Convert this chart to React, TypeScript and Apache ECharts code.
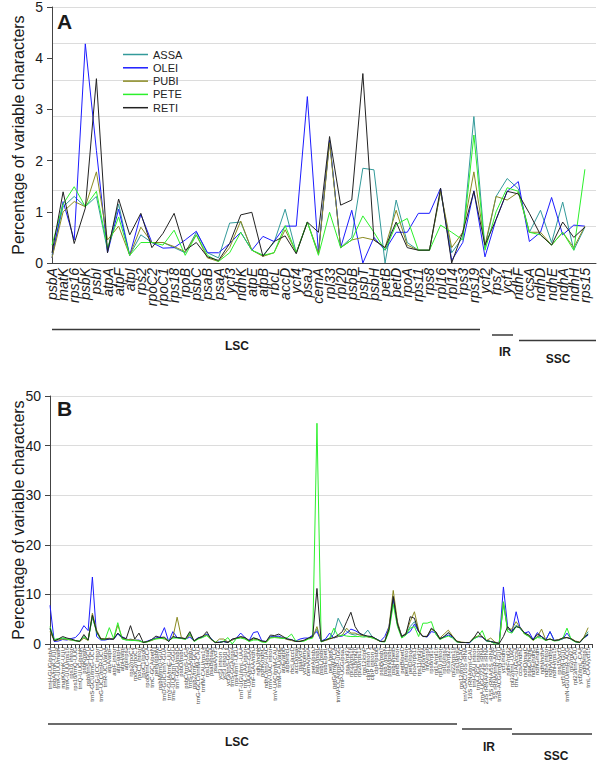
import React, { useEffect, useRef } from "react";
import * as echarts from "echarts";

const seriesNames = ["ASSA", "OLEI", "PUBI", "PETE", "RETI"];
const seriesColors = ["#339a9a", "#1c1cff", "#8a8a22", "#2cf02c", "#222222"];

const genesA = [
  "psbA", "matK", "rps16", "psbK", "psbI", "atpA", "atpF", "atpI", "rps2", "rpoC2",
  "rpoC1", "rps18", "rpoB", "psbC", "psaB", "psaA", "ycf3", "ndhK", "atpE", "atpB",
  "rbcL", "accD", "ycf4", "psaJ", "cemA", "rpl33", "rpl20", "psbB", "psbT", "psbH",
  "petB", "petD", "rpoA", "rps11", "rps8", "rpl16", "rpl14", "rps3", "rps19", "ycf2",
  "rps7", "ycf1", "ndhF", "ccsA", "ndhD", "ndhE", "ndhA", "ndhH", "rps15",
];

const assaA = [0.15, 1.1, 1.3, 1.1, 1.3, 0.25, 1.15, 0.15, 0.55, 0.4, 0.4, 0.3, 0.2, 0.6, 0.2, 0.1, 0.78, 0.8, 0.25, 0.15, 0.4, 1.05, 0.2, 0.8, 0.2, 2.4, 0.3, 0.5, 1.85, 1.82, 0.0, 1.23, 0.4, 0.25, 0.25, 1.4, 0.2, 0.5, 2.86, 0.3, 1.3, 1.65, 1.45, 0.6, 1.03, 0.4, 1.19, 0.25, 0.7];
const oleiA = [0.1, 1.2, 0.45, 4.28, 2.2, 0.2, 1.05, 0.15, 0.95, 0.4, 0.29, 0.3, 0.45, 0.62, 0.2, 0.2, 0.38, 0.6, 0.25, 0.52, 0.42, 0.72, 0.72, 3.25, 0.2, 2.4, 0.3, 1.03, 0.0, 0.5, 0.25, 0.6, 0.6, 0.97, 0.97, 1.46, 0.05, 0.4, 1.41, 0.12, 0.85, 1.4, 1.59, 0.42, 0.6, 1.28, 0.55, 0.74, 0.72];
const pubiA = [0.1, 1.0, 1.2, 1.1, 1.78, 0.45, 0.72, 0.15, 0.7, 0.4, 0.4, 0.32, 0.22, 0.55, 0.1, 0.03, 0.3, 0.82, 0.25, 0.13, 0.2, 0.65, 0.2, 0.8, 0.18, 2.35, 0.3, 0.45, 0.5, 0.45, 0.3, 1.03, 0.35, 0.25, 0.25, 1.4, 0.3, 0.6, 1.78, 0.35, 1.3, 1.23, 1.38, 0.6, 0.6, 0.35, 0.6, 0.3, 0.72];
const peteA = [0.35, 1.15, 1.49, 1.1, 1.4, 0.3, 0.9, 0.15, 0.4, 0.4, 0.35, 0.64, 0.15, 0.55, 0.15, 0.03, 0.2, 0.6, 0.25, 0.15, 0.2, 0.73, 0.2, 0.8, 0.15, 0.99, 0.3, 0.45, 0.92, 0.6, 0.25, 0.75, 0.87, 0.25, 0.25, 0.74, 0.6, 0.45, 2.5, 0.25, 1.0, 1.47, 1.4, 0.6, 0.55, 0.35, 0.6, 0.25, 1.83];
const retiA = [0.2, 1.39, 0.38, 1.07, 3.6, 0.2, 1.25, 0.55, 0.97, 0.3, 0.58, 0.97, 0.25, 0.4, 0.12, 0.05, 0.38, 0.94, 0.99, 0.13, 0.42, 0.53, 0.18, 0.8, 0.6, 2.47, 1.13, 1.23, 3.7, 0.45, 0.3, 0.8, 0.3, 0.25, 0.25, 1.46, 0.0, 0.6, 1.4, 0.35, 0.85, 1.4, 1.35, 0.97, 0.55, 0.35, 0.8, 0.5, 0.7];

const regionsB = [
  "trnH-GUG/psbA", "psbA/trnK-UUU", "trnK-UUU/matK", "matK/trnK-UUU", "trnK-UUU/rps16", "rps16 intron", "rps16/trnQ-UUG", "trnQ-UUG/psbK", "psbK/psbI", "psbI/trnS-GCU",
  "trnS-GCU/trnG-UCC", "trnG-UCC intron", "trnG-UCC/trnR-UCU", "trnR-UCU/atpA", "atpA/atpF", "atpF intron", "atpF/atpH", "atpH/atpI", "atpI/rps2", "rps2/rpoC2",
  "rpoC2/rpoC1", "rpoC1 intron", "rpoC1/rpoB", "rpoB/trnC-GCA", "trnC-GCA/petN", "petN/psbM", "psbM/trnD-GUC", "trnD-GUC/trnY-GUA", "trnY-GUA/trnE-UUC", "trnE-UUC/trnT-GGU",
  "trnT-GGU/psbD", "psbD/psbC", "psbC/trnS-UGA", "trnS-UGA/psbZ", "psbZ/trnG-GCC", "trnG-GCC/trnfM-CAU", "trnfM-CAU/rps14", "rps14/psaB", "psaB/psaA", "psaA/ycf3",
  "ycf3 intron 1", "ycf3 intron 2", "ycf3/trnS-GGA", "trnS-GGA/rps4", "rps4/trnT-UGU", "trnT-UGU/trnL-UAA", "trnL-UAA intron", "trnL-UAA/trnF-GAA", "trnF-GAA/ndhJ", "ndhJ/ndhK",
  "ndhK/ndhC", "ndhC/trnV-UAC", "trnV-UAC intron", "trnV-UAC/trnM-CAU", "trnM-CAU/atpE", "atpE/atpB", "atpB/rbcL", "rbcL/accD", "accD/psaI", "psaI/ycf4",
  "ycf4/cemA", "cemA/petA", "petA/psbJ", "psbJ/psbL", "psbL/psbF", "psbE/petL", "petL/petG", "petG/trnW-CCA", "trnW-CCA/trnP-UGG", "trnP-UGG/psaJ",
  "psaJ/rpl33", "rpl33/rps18", "rps18/rpl20", "rpl20/rps12", "rps12/clpP", "clpP intron 1", "clpP intron 2", "clpP/psbB", "psbB/psbT", "psbT/psbN",
  "psbN/psbH", "psbH/petB", "petB intron", "petB/petD", "petD intron", "petD/rpoA", "rpoA/rps11", "rps11/rpl36", "rpl36/infA", "infA/rps8",
  "rps8/rpl14", "rpl14/rpl16", "rpl16 intron", "rpl16/rps3", "rps3/rpl22", "rpl22/rps19", "rps19/rpl2", "rps12/trnV-GAC", "trnV-GAC/16S rRNA", "16S rRNA/trnI-GAU",
  "trnI-GAU intron", "trnA-UGC intron", "trnA-UGC/23S rRNA", "23S rRNA/4.5S rRNA", "4.5S rRNA/5S rRNA", "5S rRNA/trnR-ACG", "trnR-ACG/trnN-GUU", "ycf1/ndhF", "ndhF/rpl32", "rpl32/trnL-UAG",
  "trnL-UAG/ccsA", "ccsA/ndhD", "ndhD/psaC", "psaC/ndhE", "ndhE/ndhG", "ndhG/ndhI", "ndhI/ndhA", "ndhA intron", "ndhA/ndhH", "ndhH/rps15",
  "rps15/ycf1", "ycf1/trnN-GUU", "trnN-GUU/trnR-ACG", "rpl2/rpl23", "rpl23/trnI-CAU", "ycf2/trnL-CAA", "ndhB/rps7", "trnL-CAA/ycf15",
];

const assaB = [3.0, 0.8, 0.9, 1.2, 1.0, 0.8, 0.7, 0.6, 1.5, 0.8, 5.5, 2.5, 1.0, 0.9, 1.1, 1.0, 2.0, 1.2, 0.8, 1.0, 0.8, 0.7, 0.3, 0.5, 0.8, 1.2, 1.3, 1.1, 0.6, 1.4, 1.3, 1.2, 1.0, 2.0, 0.6, 1.2, 1.5, 2.0, 1.0, 0.3, 0.3, 0.5, 0.3, 0.8, 1.1, 1.4, 1.2, 0.6, 1.3, 1.0, 0.5, 0.5, 1.5, 1.6, 1.4, 1.3, 1.0, 0.8, 0.5, 0.5, 0.7, 1.2, 1.5, 3.0, 0.5, 0.8, 1.2, 2.0, 5.2, 3.5, 2.5, 2.0, 1.8, 2.0, 1.8, 2.8, 1.5, 1.0, 0.5, 0.5, 3.0, 8.8, 4.0, 1.5, 2.0, 3.5, 4.5, 2.5, 1.5, 1.5, 3.0, 2.5, 1.0, 1.5, 2.2, 1.5, 0.5, 0.3, 0.3, 0.3, 1.2, 1.5, 1.5, 0.7, 0.5, 0.3, 0.1, 8.0, 3.0, 2.5, 3.8, 3.2, 2.2, 1.8, 0.8, 1.5, 1.5, 0.8, 2.5, 0.7, 0.8, 1.2, 1.3, 1.0, 0.5, 0.3, 1.3, 2.5];
const oleiB = [7.8, 0.5, 0.6, 0.9, 0.8, 1.1, 1.3, 2.2, 3.7, 2.7, 13.5, 1.5, 0.8, 0.8, 1.0, 0.9, 2.1, 1.5, 1.0, 0.8, 0.7, 0.8, 0.3, 0.6, 0.9, 1.2, 1.4, 3.3, 0.5, 2.5, 1.3, 1.2, 1.0, 1.4, 0.6, 1.3, 1.4, 2.0, 1.1, 0.3, 0.4, 0.5, 0.4, 0.9, 1.2, 2.2, 1.3, 0.7, 2.3, 2.5, 0.6, 0.5, 1.4, 1.5, 1.6, 1.2, 1.0, 0.8, 0.6, 1.0, 1.2, 1.2, 1.8, 2.5, 0.6, 1.0, 2.2, 1.2, 1.5, 1.6, 2.2, 3.0, 2.7, 2.2, 1.6, 1.5, 1.4, 1.0, 0.6, 1.5, 3.5, 9.3, 4.2, 1.6, 2.0, 2.5, 4.0, 2.5, 1.6, 1.4, 2.5, 2.3, 1.1, 1.4, 1.8, 1.4, 0.5, 0.3, 0.3, 0.2, 1.1, 1.5, 1.4, 0.6, 0.5, 0.3, 0.1, 11.5, 3.5, 2.3, 6.5, 3.0, 2.2, 2.5, 0.9, 2.3, 1.5, 0.8, 2.5, 0.7, 0.8, 1.0, 2.2, 1.0, 0.5, 0.3, 1.2, 1.8];
const pubiB = [2.5, 0.7, 0.8, 1.0, 0.9, 0.8, 0.7, 0.5, 1.2, 0.7, 6.2, 2.8, 1.1, 1.0, 1.2, 0.9, 3.8, 1.3, 0.9, 0.9, 0.8, 0.7, 0.3, 0.5, 0.7, 1.1, 1.2, 1.0, 0.6, 1.3, 5.4, 1.3, 1.0, 1.8, 0.7, 1.1, 1.6, 1.8, 0.9, 0.3, 1.0, 1.0, 0.4, 0.8, 1.2, 1.3, 1.1, 0.6, 1.0, 0.9, 0.5, 0.4, 1.3, 1.4, 1.3, 1.2, 0.9, 0.7, 0.5, 0.6, 0.7, 1.1, 1.4, 3.5, 0.5, 0.7, 1.0, 1.3, 1.5, 1.8, 3.2, 2.2, 2.2, 1.8, 1.7, 1.4, 1.3, 0.9, 0.5, 0.6, 3.5, 10.8, 4.5, 1.5, 2.2, 4.5, 6.5, 2.8, 1.5, 1.6, 3.0, 2.5, 1.2, 2.0, 2.8, 1.6, 0.6, 0.4, 0.3, 0.3, 1.3, 1.6, 1.5, 0.7, 1.2, 0.4, 0.1, 8.5, 3.0, 3.0, 4.5, 3.2, 2.0, 1.6, 0.7, 1.4, 3.0, 0.8, 1.0, 0.7, 0.9, 1.2, 1.3, 1.1, 0.6, 0.4, 1.4, 3.3];
const peteB = [3.5, 0.9, 1.1, 1.2, 1.0, 0.9, 0.6, 0.6, 1.5, 0.8, 5.5, 2.3, 0.9, 0.9, 3.3, 1.1, 4.3, 1.0, 0.8, 0.7, 0.7, 0.6, 0.4, 0.4, 0.8, 1.0, 1.1, 1.2, 0.7, 1.2, 1.2, 1.1, 0.9, 2.3, 0.5, 1.0, 1.3, 1.7, 1.0, 0.4, 0.3, 0.6, 1.3, 0.0, 1.1, 1.2, 1.0, 0.5, 0.8, 0.8, 0.4, 0.3, 1.2, 1.3, 1.2, 1.1, 1.3, 2.0, 0.6, 0.5, 0.6, 1.0, 1.2, 44.5, 0.4, 0.8, 1.2, 3.2, 1.6, 1.8, 1.6, 1.5, 1.5, 1.5, 1.4, 1.5, 1.2, 1.0, 0.5, 0.4, 2.5, 8.0, 3.5, 1.2, 1.8, 3.2, 3.5, 1.5, 4.2, 4.2, 4.5, 2.0, 0.9, 1.3, 1.6, 1.2, 0.4, 0.3, 0.3, 0.3, 1.0, 1.5, 2.7, 0.6, 0.5, 0.0, 0.0, 8.5, 2.5, 2.2, 3.5, 3.2, 2.0, 1.5, 0.8, 1.3, 1.2, 0.7, 1.0, 0.6, 0.7, 1.1, 3.2, 0.9, 0.4, 0.3, 1.2, 2.0];
const retiB = [3.2, 0.6, 1.0, 1.5, 1.2, 1.0, 0.7, 0.5, 1.9, 0.8, 5.8, 2.5, 1.0, 1.0, 1.0, 1.0, 2.2, 1.3, 1.1, 3.7, 1.0, 2.2, 0.3, 0.5, 0.9, 1.6, 1.3, 1.4, 0.5, 1.5, 1.3, 1.2, 1.1, 2.5, 0.6, 1.2, 1.5, 2.5, 1.0, 0.3, 0.3, 0.5, 0.3, 1.0, 1.2, 1.5, 1.3, 0.7, 1.2, 1.0, 0.6, 0.5, 1.8, 1.7, 2.0, 1.5, 1.0, 0.9, 0.5, 0.5, 0.8, 1.2, 1.5, 11.2, 0.5, 0.8, 1.1, 1.3, 1.8, 2.5, 4.5, 6.4, 3.5, 2.2, 1.8, 1.6, 1.5, 1.0, 0.5, 0.5, 3.0, 9.6, 4.0, 1.5, 2.0, 5.5, 5.2, 2.5, 1.5, 1.5, 3.2, 2.5, 1.0, 1.5, 2.3, 1.5, 0.5, 0.3, 0.3, 0.3, 1.2, 2.5, 1.4, 0.7, 0.5, 0.3, 0.1, 1.5, 3.5, 2.5, 3.5, 3.3, 2.2, 1.8, 0.8, 2.0, 1.5, 0.8, 1.0, 0.7, 0.8, 1.2, 1.3, 1.0, 0.5, 0.3, 1.3, 2.0];

const yTicksA = { min: 0, max: 5, interval: 1 };
const yTicksB = { min: 0, max: 50, interval: 10 };

const FONT = '"Liberation Sans", Arial, sans-serif';

function txt(text: string, x: number, y: number, size: number, bold = false, rotation = 0, align = "center") {
  return {
    type: "text",
    x,
    y,
    rotation,
    silent: true,
    style: {
      text,
      fill: "#1a1a1a",
      font: `${bold ? "bold " : ""}${size}px ${FONT}`,
      textAlign: align,
      textVerticalAlign: "middle",
      align,
      verticalAlign: "middle",
    },
  };
}

function hline(x1: number, x2: number, y: number) {
  return {
    type: "line",
    silent: true,
    shape: { x1, y1: y, x2, y2: y },
    style: { stroke: "#3a3a3a", lineWidth: 1.5 },
  };
}

export default function App() {
  const ref = useRef<HTMLDivElement>(null);

  useEffect(() => {
    if (!ref.current) return;
    const chart = echarts.init(ref.current, undefined, { renderer: "svg" });
    const dataA = [assaA, oleiA, pubiA, peteA, retiA];
    const dataB = [assaB, oleiB, pubiB, peteB, retiB];

    const series: any[] = [];
    seriesNames.forEach((name, k) => {
      series.push({
        name,
        type: "line",
        xAxisIndex: 0,
        yAxisIndex: 0,
        data: dataA[k],
        symbol: "none",
        showSymbol: false,
        lineStyle: { width: 1, color: seriesColors[k] },
        itemStyle: { color: seriesColors[k] },
      });
    });
    seriesNames.forEach((name, k) => {
      series.push({
        name,
        type: "line",
        xAxisIndex: 1,
        yAxisIndex: 2,
        data: dataB[k],
        symbol: "none",
        showSymbol: false,
        lineStyle: { width: 1, color: seriesColors[k] },
        itemStyle: { color: seriesColors[k] },
      });
    });

    const axisLineStyle = { show: true, lineStyle: { color: "#444", width: 1 } };

    chart.setOption({
      animation: false,
      backgroundColor: "#ffffff",
      textStyle: { fontFamily: FONT },
      legend: {
        data: seriesNames,
        orient: "vertical",
        left: 118,
        top: 43,
        icon: "rect",
        itemWidth: 25,
        itemHeight: 1.5,
        itemGap: 0.3,
        selectedMode: false,
        textStyle: { fontSize: 11, lineHeight: 13, color: "#222", fontFamily: FONT },
      },
      grid: [
        { left: 52, top: 7, width: 544, height: 256, containLabel: false },
        { left: 50, top: 396, width: 542.4, height: 248, containLabel: false },
      ],
      xAxis: [
        {
          type: "category",
          gridIndex: 0,
          data: [...genesA, ""],
          boundaryGap: false,
          axisLine: axisLineStyle,
          axisTick: { show: false },
          axisLabel: {
            interval: 0,
            rotate: 90,
            margin: 5,
            fontSize: 14,
            fontStyle: "italic",
            color: "#1a1a1a",
            fontFamily: FONT,
          },
          splitLine: { show: false },
        },
        {
          type: "category",
          gridIndex: 1,
          data: [...regionsB, ""],
          boundaryGap: false,
          axisLine: axisLineStyle,
          axisTick: { show: true, interval: 0, length: 4, lineStyle: { color: "#444" } },
          axisLabel: {
            interval: 0,
            rotate: 90,
            margin: 3,
            fontSize: 6,
            color: "#444",
            fontFamily: FONT,
          },
          splitLine: { show: false },
        },
      ],
      yAxis: [
        {
          type: "value",
          gridIndex: 0,
          min: yTicksA.min,
          max: yTicksA.max,
          interval: yTicksA.interval,
          axisLine: axisLineStyle,
          axisTick: { show: true, length: 5, lineStyle: { color: "#444" } },
          axisLabel: { fontSize: 14, color: "#1a1a1a", margin: 9, fontFamily: FONT },
          splitLine: { show: false },
        },
        {
          type: "value",
          gridIndex: 0,
          position: "left",
          min: 0,
          max: 5,
          interval: 5 / 7,
          axisLine: { show: false },
          axisTick: { show: false },
          axisLabel: { show: false },
          splitLine: { show: true, lineStyle: { color: "#dcdcdc", width: 1 } },
        },
        {
          type: "value",
          gridIndex: 1,
          min: yTicksB.min,
          max: yTicksB.max,
          interval: yTicksB.interval,
          axisLine: axisLineStyle,
          axisTick: { show: true, length: 5, lineStyle: { color: "#444" } },
          axisLabel: { fontSize: 14, color: "#1a1a1a", margin: 9, fontFamily: FONT },
          splitLine: { show: true, lineStyle: { color: "#dcdcdc", width: 1 } },
        },
      ],
      series,
      graphic: [
        txt("Percentage of variable characters", 18, 135, 16, false, Math.PI / 2),
        txt("Percentage of variable characters", 18, 520, 16, false, Math.PI / 2),
        txt("A", 57, 21, 21, true, 0, "left"),
        txt("B", 57, 408, 21, true, 0, "left"),
        hline(52, 480, 329.5),
        hline(492, 513, 335),
        hline(519, 596, 340.5),
        txt("LSC", 237, 346, 12, true),
        txt("IR", 505, 352, 12, true),
        txt("SSC", 558, 359, 12, true),
        hline(48, 457, 724),
        hline(462, 512, 729),
        hline(512, 592, 734),
        txt("LSC", 237, 742, 12, true),
        txt("IR", 489, 747, 12, true),
        txt("SSC", 556, 756, 12, true),
      ],
    });

    return () => chart.dispose();
  }, []);

  return (
    <div
      ref={ref}
      style={{ position: "absolute", left: 0, top: 0, width: 600, height: 763, background: "#fff" }}
    />
  );
}
